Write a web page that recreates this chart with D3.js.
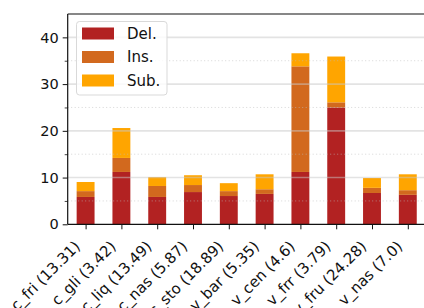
<!DOCTYPE html>
<html><head><meta charset="utf-8">
<script src="https://cdn.jsdelivr.net/npm/d3@7"></script>
<style>body{margin:0;background:#fff}svg{display:block}text{font-family:"DejaVu Sans",sans-serif}</style>
</head><body><svg id="c" width="424" height="308"></svg>
<script>
const categories = ["c_fri (13.31)","c_gli (3.42)","c_liq (13.49)","c_nas (5.87)","c_sto (18.89)","v_bar (5.35)","v_cen (4.6)","v_frr (3.79)","v_fru (24.28)","v_nas (7.0)"];
const del = [5.85, 11.2, 5.85, 6.9, 6.05, 6.5, 11.2, 25.0, 6.7, 6.3];
const ins = [1.25, 3.0, 2.35, 1.5, 1.05, 1.0, 22.6, 1.1, 1.1, 1.0];
const sub = [1.95, 6.4, 1.9, 2.1, 1.7, 3.2, 2.8, 9.8, 2.1, 3.4];
const seriesNames = ["Del.","Ins.","Sub."];
const colors = ["#b22222","#d2691e","#ffa500"];
const yMajor = [0,10,20,30,40];
const yMinor = [5,15,25,35];

const svg = d3.select("#c");
const L = 67.7, T = 14, B = 224.3;
const step = 35.8;
const R = L + step*10;
const x = d3.scaleLinear().domain([-0.5, 9.5]).range([L, R]);
const y = d3.scaleLinear().domain([0, 45]).range([B, T]);
const bw = step*0.5;

const data = categories.map((c,i)=>({c, v:[del[i],ins[i],sub[i]]}));
const g = svg.append("g");
data.forEach((d,i)=>{
  let base = 0;
  d.v.forEach((v,k)=>{
    g.append("rect").attr("x", x(i)-bw/2).attr("width", bw)
      .attr("y", y(base+v)).attr("height", y(base)-y(base+v))
      .attr("fill", colors[k]);
    base += v;
  });
});

// grid on top
const grid = svg.append("g");
yMajor.filter(v=>v>0).forEach(v=>{
  grid.append("line").attr("x1",L).attr("x2",424).attr("y1",y(v)).attr("y2",y(v))
    .attr("stroke","#c8c8c8").attr("stroke-opacity",0.5).attr("stroke-width",1.6);
});
yMinor.forEach(v=>{
  grid.append("line").attr("x1",L).attr("x2",424).attr("y1",y(v)).attr("y2",y(v))
    .attr("stroke","#bbbbbb").attr("stroke-opacity",0.6).attr("stroke-width",1).attr("stroke-dasharray","1,2.5");
});

// y axis
const ya = svg.append("g").attr("transform",`translate(${L},0)`)
  .call(d3.axisLeft(y).tickValues(yMajor).tickSize(5).tickPadding(4).tickFormat(d3.format("d")));
ya.select(".domain").remove();
ya.selectAll("text").attr("font-size",14.5).attr("fill","#111").attr("font-family","DejaVu Sans");
ya.selectAll("line").attr("stroke","#111").attr("stroke-width",1);
const ym = svg.append("g").attr("transform",`translate(${L},0)`)
  .call(d3.axisLeft(y).tickValues(yMinor).tickSize(3).tickFormat(""));
ym.select(".domain").remove();
ym.selectAll("line").attr("stroke","#111").attr("stroke-width",0.8);

// x axis
const xa = svg.append("g").attr("transform",`translate(0,${B})`)
  .call(d3.axisBottom(x).tickValues(d3.range(10)).tickSize(5).tickFormat(i=>categories[i]));
xa.select(".domain").remove();
xa.selectAll("line").attr("stroke","#111").attr("stroke-width",1);
xa.selectAll("text").attr("font-size",15).attr("fill","#111").attr("font-family","DejaVu Sans")
  .attr("text-anchor","end").attr("dy",null).attr("y",null)
  .attr("transform","translate(-5,23) rotate(-45)");

// spines
svg.append("line").attr("x1",L).attr("x2",L).attr("y1",T).attr("y2",B).attr("stroke","#111").attr("stroke-width",1.2);
svg.append("line").attr("x1",L).attr("x2",424).attr("y1",B).attr("y2",B).attr("stroke","#111").attr("stroke-width",1.2);
svg.append("line").attr("x1",L).attr("x2",424).attr("y1",T).attr("y2",T).attr("stroke","#111").attr("stroke-width",1.2);

// legend
const lg = svg.append("g");
lg.append("rect").attr("x",76.5).attr("y",21.5).attr("width",90.5).attr("height",73.5).attr("rx",3)
  .attr("fill","#fff").attr("fill-opacity",0.8).attr("stroke","#d9d9d9");
seriesNames.forEach((n,k)=>{
  const cy = 33.5 + k*23.5;
  lg.append("rect").attr("x",82).attr("y",cy-6).attr("width",32).attr("height",12).attr("fill",colors[k]);
  lg.append("text").attr("x",127).attr("y",cy).attr("dy","0.36em").attr("font-size",15).attr("fill","#111").text(n);
});
</script></body></html>
